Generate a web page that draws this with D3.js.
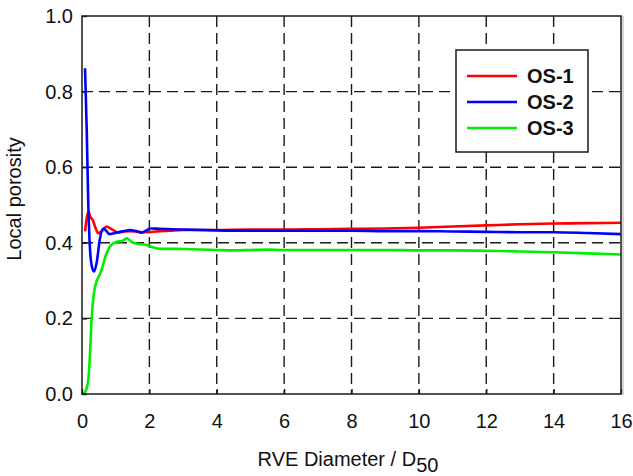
<!DOCTYPE html>
<html>
<head>
<meta charset="utf-8">
<script src="https://cdn.jsdelivr.net/npm/d3@7"></script>
<style>
  body { margin: 0; background: #fff; }
  svg { display: block; font-family: Arial, "Liberation Sans", sans-serif; }
</style>
</head>
<body>
<svg id="chart" width="633" height="476"></svg>
<script>
const seriesNames = ["OS-1", "OS-2", "OS-3"];
const seriesColors = ["#ff0000", "#0000ff", "#00ee00"];

const xOS1 = [0.09, 0.14, 0.19, 0.25, 0.32, 0.40, 0.48, 0.60, 0.73, 0.90, 1.08, 1.25, 1.42, 1.60, 1.77, 2.0, 2.2, 2.6, 3.0, 4.0, 5.0, 6.0, 7.0, 8.0, 9.0, 10.0, 11.0, 12.0, 13.0, 14.0, 15.0, 16.0];
const yOS1 = [0.430, 0.465, 0.482, 0.468, 0.460, 0.440, 0.425, 0.432, 0.443, 0.435, 0.427, 0.430, 0.431, 0.430, 0.428, 0.428, 0.430, 0.432, 0.434, 0.434, 0.435, 0.435, 0.436, 0.437, 0.438, 0.440, 0.443, 0.446, 0.449, 0.451, 0.452, 0.453];

const xOS2 = [0.09, 0.14, 0.19, 0.24, 0.30, 0.36, 0.44, 0.53, 0.63, 0.72, 0.81, 0.95, 1.13, 1.30, 1.42, 1.60, 1.77, 1.90, 2.02, 2.3, 3.0, 4.0, 5.0, 6.0, 7.0, 8.0, 9.0, 10.0, 11.0, 12.0, 13.0, 14.0, 15.0, 16.0];
const yOS2 = [0.862, 0.700, 0.490, 0.380, 0.335, 0.324, 0.350, 0.410, 0.438, 0.432, 0.423, 0.425, 0.429, 0.432, 0.434, 0.431, 0.427, 0.432, 0.438, 0.437, 0.435, 0.433, 0.432, 0.432, 0.432, 0.432, 0.431, 0.431, 0.430, 0.429, 0.428, 0.428, 0.426, 0.423];

const xOS3 = [0.05, 0.12, 0.19, 0.24, 0.29, 0.36, 0.44, 0.52, 0.58, 0.70, 0.83, 1.03, 1.20, 1.33, 1.45, 1.60, 1.92, 2.1, 2.31, 2.8, 3.2, 4.0, 4.5, 5.0, 5.5, 6.0, 7.0, 8.0, 9.0, 10.0, 11.0, 12.0, 13.0, 14.0, 15.0, 16.0];
const yOS3 = [0.000, 0.010, 0.040, 0.110, 0.205, 0.270, 0.300, 0.315, 0.328, 0.365, 0.390, 0.403, 0.405, 0.412, 0.404, 0.398, 0.394, 0.388, 0.384, 0.384, 0.383, 0.381, 0.380, 0.381, 0.382, 0.381, 0.381, 0.381, 0.381, 0.380, 0.380, 0.379, 0.377, 0.375, 0.372, 0.369];

const xTicks = [0, 2, 4, 6, 8, 10, 12, 14, 16];
const yTicks = [0.0, 0.2, 0.4, 0.6, 0.8, 1.0];

const xs = [xOS1, xOS2, xOS3];
const ys = [yOS1, yOS2, yOS3];

const svg = d3.select("#chart");
const L = 82, R = 621, T = 16, B = 394;
const FS = 20;
const x = d3.scaleLinear().domain([0, 16]).range([L, R]);
const y = d3.scaleLinear().domain([0, 1]).range([B, T]);

// gridlines
const grid = svg.append("g");
grid.selectAll("line.gx").data(xTicks.slice(1, -1)).enter().append("line")
  .attr("x1", d => x(d)).attr("x2", d => x(d)).attr("y1", T).attr("y2", B)
  .attr("stroke", "#1a1a1a").attr("stroke-width", 1.4).attr("stroke-dasharray", "11,6");
grid.selectAll("line.gy").data(yTicks.slice(1, -1)).enter().append("line")
  .attr("x1", L).attr("x2", R).attr("y1", d => y(d)).attr("y2", d => y(d))
  .attr("stroke", "#1a1a1a").attr("stroke-width", 1.4).attr("stroke-dasharray", "11,6");

// series
const line = d3.line().curve(d3.curveMonotoneX).x(d => x(d[0])).y(d => y(d[1]));
seriesNames.forEach((n, i) => {
  const pts = xs[i].map((v, j) => [v, ys[i][j]]);
  svg.append("path").datum(pts).attr("d", line)
    .attr("fill", "none").attr("stroke", seriesColors[i]).attr("stroke-width", 2.6)
    .attr("stroke-linejoin", "round");
});

// axes
const xAxis = d3.axisBottom(x).tickValues(xTicks).tickSizeInner(-5).tickSizeOuter(0).tickPadding(20)
  .tickFormat(d3.format("d"));
const gx = svg.append("g").attr("transform", `translate(0,${B})`).call(xAxis);
const yAxis = d3.axisLeft(y).tickValues(yTicks).tickSizeInner(-5).tickSizeOuter(0).tickPadding(9)
  .tickFormat(d3.format(".1f"));
const gy = svg.append("g").attr("transform", `translate(${L},0)`).call(yAxis);
[gx, gy].forEach(g => {
  g.select(".domain").remove();
  g.selectAll("line").attr("stroke", "#1a1a1a").attr("stroke-width", 1.4);
  g.selectAll("text").attr("font-size", FS).attr("fill", "#111").attr("font-family", "Arial, 'Liberation Sans', sans-serif");
});

// frame
svg.append("line").attr("x1", R + 2).attr("x2", R + 2).attr("y1", T).attr("y2", B + 1)
  .attr("stroke", "#c8c8c8").attr("stroke-width", 1.5);
svg.append("rect").attr("x", L).attr("y", T).attr("width", R - L).attr("height", B - T)
  .attr("fill", "none").attr("stroke", "#1a1a1a").attr("stroke-width", 1.5);

// axis titles
svg.append("text").attr("transform", `translate(21,199) rotate(-90)`)
  .attr("text-anchor", "middle").attr("font-size", FS).attr("fill", "#111")
  .text("Local porosity");
const xt = svg.append("text").attr("x", 348).attr("y", 466).attr("text-anchor", "middle")
  .attr("font-size", FS).attr("fill", "#111");
xt.append("tspan").text("RVE Diameter / D");
xt.append("tspan").attr("font-size", FS).attr("dy", 6).text("50");

// legend
const lg = svg.append("g");
lg.append("rect").attr("x", 456).attr("y", 50).attr("width", 132).attr("height", 102)
  .attr("fill", "#fff").attr("stroke", "#1a1a1a").attr("stroke-width", 1.5);
seriesNames.forEach((n, i) => {
  const yy = 76 + i * 26;
  lg.append("line").attr("x1", 467).attr("x2", 517).attr("y1", yy).attr("y2", yy)
    .attr("stroke", seriesColors[i]).attr("stroke-width", 2.6);
  lg.append("text").attr("x", 527).attr("y", yy).attr("dy", "0.35em")
    .attr("font-size", FS).attr("font-weight", "bold").attr("fill", "#111").text(n);
});
</script>
</body>
</html>
